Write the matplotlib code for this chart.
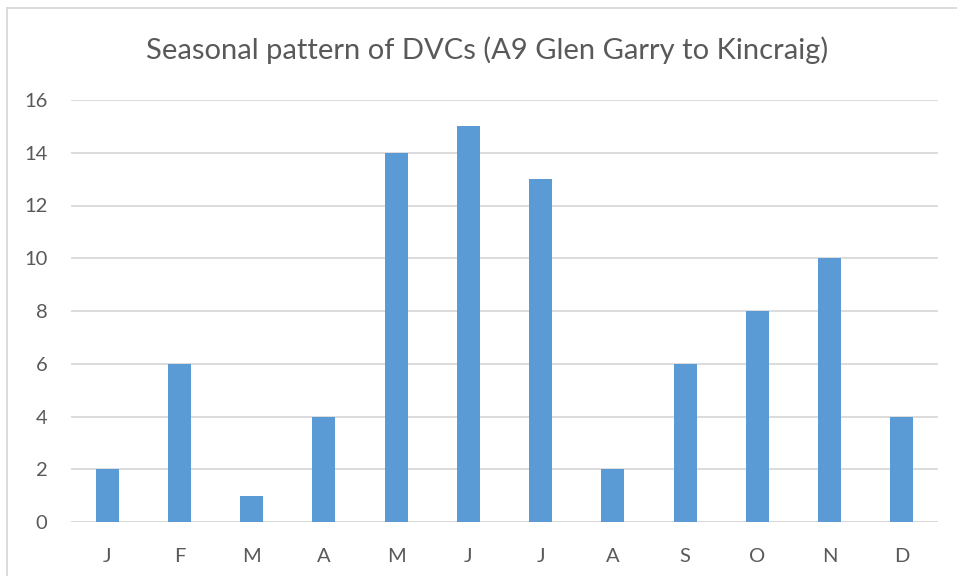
import matplotlib
matplotlib.use("Agg")
import matplotlib.pyplot as plt
from matplotlib.lines import Line2D

months = ["J", "F", "M", "A", "M", "J", "J", "A", "S", "O", "N", "D"]
dvcs = [2, 6, 1, 4, 14, 15, 13, 2, 6, 8, 10, 4]
yticks = [0, 2, 4, 6, 8, 10, 12, 14, 16]

plt.rcParams['font.family'] = ['Lato', 'DejaVu Sans']
txt = '#595959'
grid = '#D9D9D9'

fig = plt.figure(figsize=(9.57, 5.76), dpi=100)
ax = fig.add_axes([71/957, 1 - 522/576, 867/957, 422/576])

x = list(range(len(months)))
ax.bar(x, dvcs, width=0.32, color='#5B9BD5', zorder=3)

ax.set_xlim(-0.5, 11.5)
ax.set_ylim(0, 16)
ax.set_yticks(yticks)
ax.set_xticks(x)
ax.set_xticklabels(months)
ax.yaxis.grid(True, color=grid, linewidth=1.3, zorder=0)
for sp in ax.spines.values():
    sp.set_visible(False)
ax.tick_params(length=0, colors=txt, labelsize=14.5)
ax.tick_params(axis='x', pad=19)
ax.tick_params(axis='y', pad=17)
ax.axhline(0, color=grid, linewidth=1.3, zorder=2)

fig.text(487/957, 1 - 50/576, "Seasonal pattern of DVCs (A9 Glen Garry to Kincraig)",
         ha='center', va='center', fontsize=21, color=txt)

# chart border (only the left and top edges are in view)
fig.add_artist(Line2D([7/957, 7/957], [0, 1 - 8/576], transform=fig.transFigure,
                      color=grid, linewidth=1.3))
fig.add_artist(Line2D([7/957, 1], [1 - 8/576, 1 - 8/576], transform=fig.transFigure,
                      color=grid, linewidth=1.3))

fig.savefig("out.png", dpi=100)
